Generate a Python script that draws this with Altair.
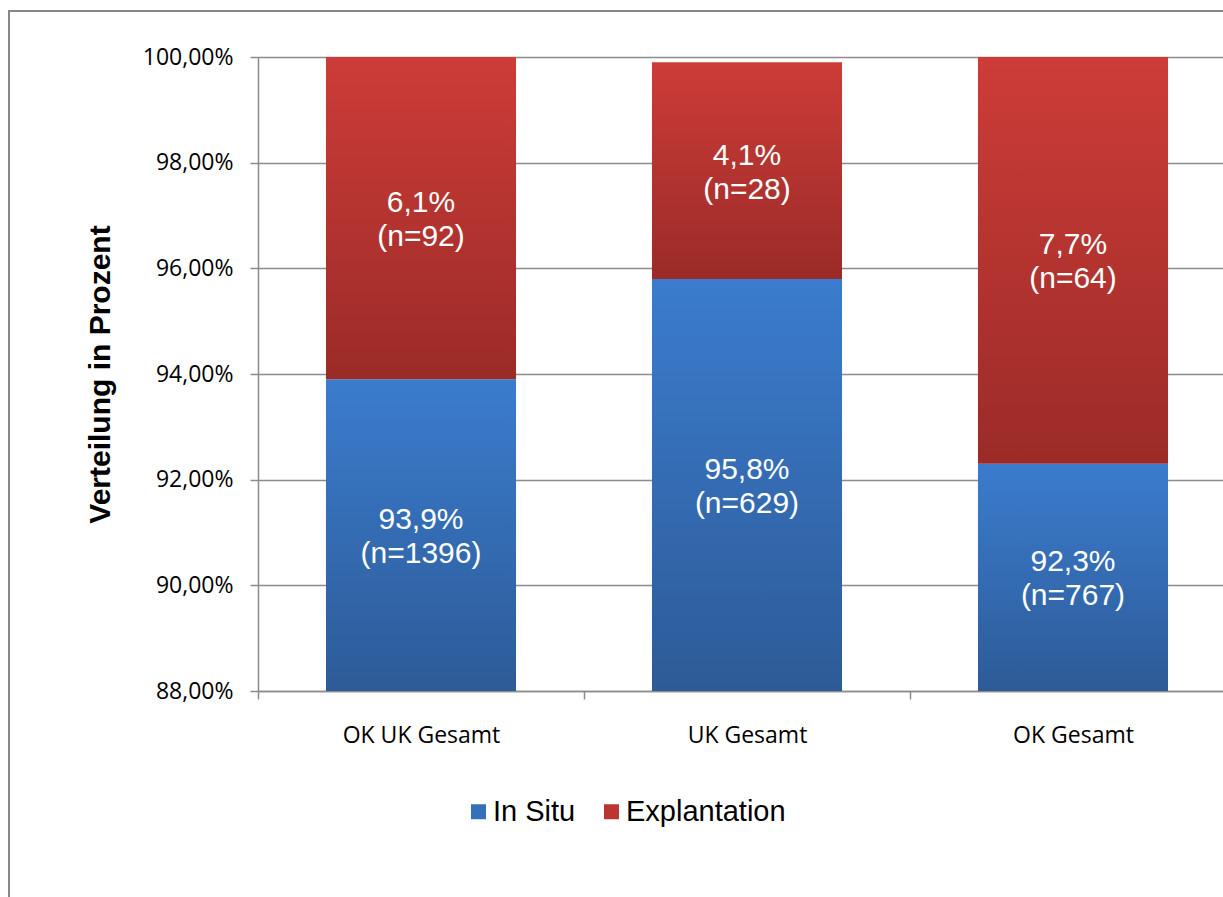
import altair as alt
import pandas as pd

categories = ["OK UK Gesamt", "UK Gesamt", "OK Gesamt"]
in_situ = [93.9, 95.8, 92.3]
explantation = [6.1, 4.1, 7.7]
n_in_situ = [1396, 629, 767]
n_explantation = [92, 28, 64]
series = ["In Situ", "Explantation"]
y_ticks = [88, 90, 92, 94, 96, 98, 100]
y_min, y_max = 88, 100

def fmt(v):
    return f"{v:.1f}".replace(".", ",") + "%"

rows = []
for c, a, b, na, nb in zip(categories, in_situ, explantation, n_in_situ, n_explantation):
    lo = y_min
    rows.append(dict(cat=c, series="In Situ", y0=lo, y1=a, ymid=(lo + a) / 2,
                     label=f"{fmt(a)}\n(n={na})"))
    rows.append(dict(cat=c, series="Explantation", y0=a, y1=a + b, ymid=(a + a + b) / 2,
                     label=f"{fmt(b)}\n(n={nb})"))
df = pd.DataFrame(rows)

W, H = 965, 634
x_scale = alt.Scale(domain=categories, range=[0, 978], paddingInner=0, paddingOuter=0)
y_scale = alt.Scale(domain=[y_min, y_max], nice=False, zero=False)

def grad(top, bottom):
    return alt.LinearGradient(gradient="linear", x1=0, x2=0, y1=0, y2=1,
                              stops=[alt.GradientStop(color=top, offset=0),
                                     alt.GradientStop(color=bottom, offset=1)])

base = alt.Chart(df)

x_enc = alt.X("cat:N", scale=x_scale, sort=categories, title=None,
              axis=alt.Axis(labelFont="Open Sans", labelFontSize=23, labelColor="#000000",
                            labelAngle=0, tickBand="extent", tickSize=8, tickColor="#8c8c8c",
                            tickWidth=1.5, domainColor="#8c8c8c", domainWidth=1.5,
                            labelPadding=25, grid=False))
y_enc = alt.Y("y1:Q", scale=y_scale,
              title="Verteilung in Prozent",
              axis=alt.Axis(values=y_ticks,
                            labelExpr="replace(format(datum.value, '.2f'), '.', ',') + '%'",
                            labelFont="Open Sans", labelFontSize=23, labelColor="#000000",
                            labelPadding=17, tickSize=8, tickColor="#8c8c8c", tickWidth=1.5,
                            domainColor="#8c8c8c", domainWidth=1.5,
                            grid=True, gridColor="#8c8c8c", gridWidth=1.5,
                            titleFont="Liberation Sans", titleFontSize=30, titleFontWeight="bold",
                            titleColor="#000000", titleX=-143, titleY=H / 2))

border = alt.Chart(pd.DataFrame({"a": [0]})).mark_rect(
    fillOpacity=0, stroke="#878787", strokeWidth=2
).encode(x=alt.value(-249), x2=alt.value(3000), y=alt.value(-46), y2=alt.value(3000))

bar_w = alt.RelativeBandSize(0.583)

blue = base.transform_filter(alt.datum.series == "In Situ").mark_bar(
    fill=grad("#3b7cce", "#2d5b97"), width=bar_w
).encode(x=x_enc, y=y_enc, y2="y0:Q")

red = base.transform_filter(alt.datum.series == "Explantation").mark_bar(
    fill=grad("#cd3c38", "#9b2b28"), width=bar_w
).encode(x=x_enc, y=y_enc, y2="y0:Q")

labels = base.mark_text(
    font="Liberation Sans", fontSize=30, color="white", lineBreak="\n", lineHeight=34,
    align="center", baseline="middle", dy=-15
).encode(x=alt.X("cat:N", scale=x_scale, sort=categories), y=alt.Y("ymid:Q", scale=y_scale),
         text="label:N")

legend_layer = base.mark_square(opacity=0, size=225).encode(
    x=alt.X("cat:N", scale=x_scale, sort=categories),
    y=alt.Y("y1:Q", scale=y_scale),
    color=alt.Color("series:N", scale=alt.Scale(domain=series, range=["#3670bb", "#bb3633"]),
                    legend=alt.Legend(title=None, orient="none", legendX=206, legendY=740,
                                      direction="horizontal", symbolType="square",
                                      symbolSize=225, symbolOpacity=1, symbolStrokeWidth=0,
                                      labelFont="Liberation Sans", labelFontSize=29,
                                      labelColor="#000000", labelOffset=0, columnPadding=21,
                                      padding=0))
)

chart = alt.layer(border, blue, red, labels, legend_layer).properties(
    width=W, height=H,
    padding={"left": 258, "top": 57, "right": 0, "bottom": 206},
    autosize=alt.AutoSizeParams(type="none"),
    background="white"
).configure_view(stroke=None)

chart.save("out.html", embed_options={"renderer": "svg", "actions": False})
